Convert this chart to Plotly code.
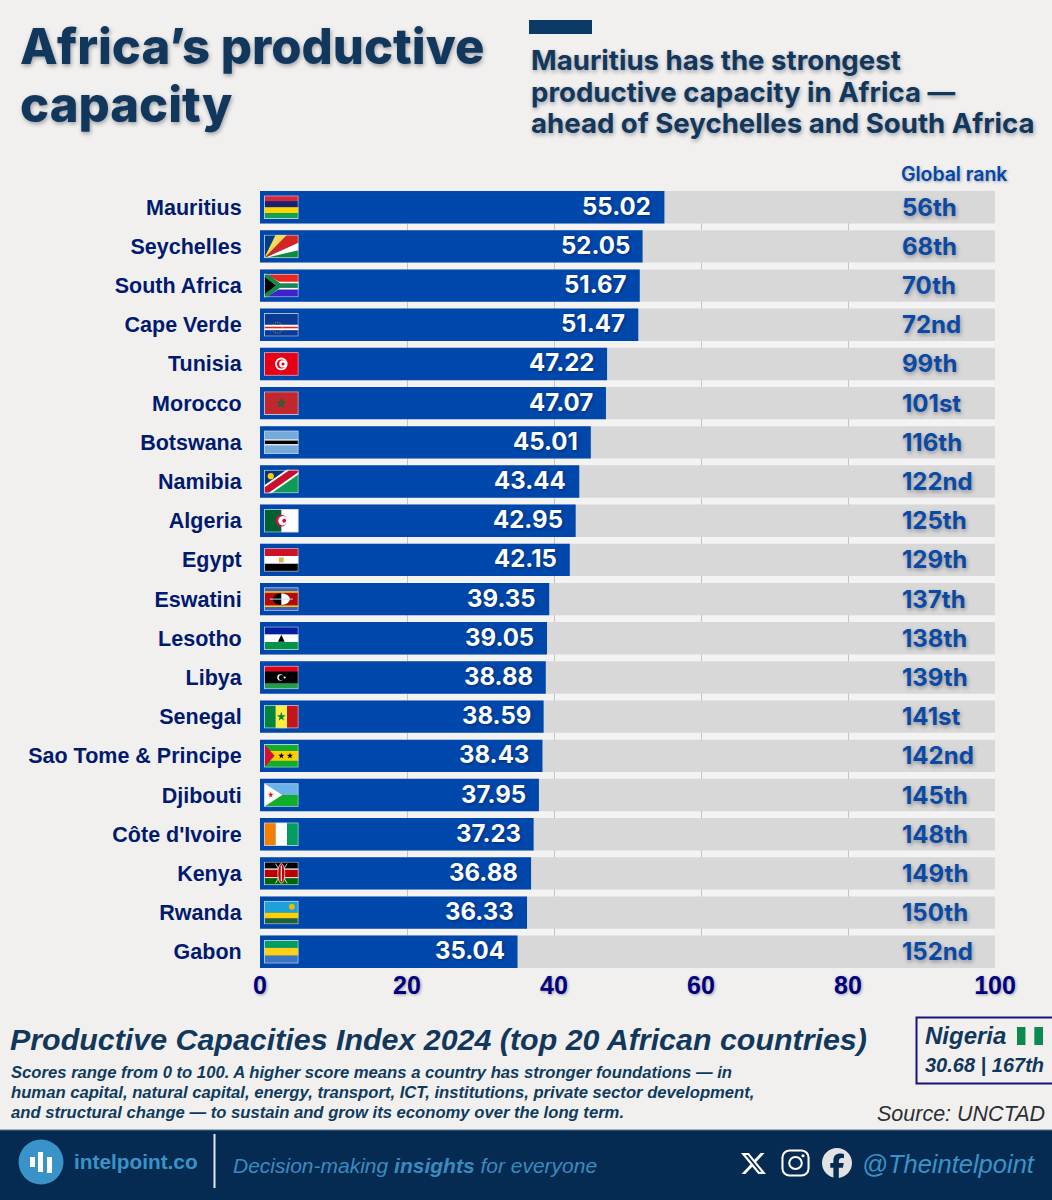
import base64
import plotly.graph_objects as go

W, H = 1052, 1200
PL, PR, PT, PB = 260, 995, 191, 968

countries = ["Mauritius", "Seychelles", "South Africa", "Cape Verde", "Tunisia", "Morocco", "Botswana",
             "Namibia", "Algeria", "Egypt", "Eswatini", "Lesotho", "Libya", "Senegal", "Sao Tome & Principe",
             "Djibouti", "Côte d'Ivoire", "Kenya", "Rwanda", "Gabon"]
scores = [55.02, 52.05, 51.67, 51.47, 47.22, 47.07, 45.01, 43.44, 42.95, 42.15,
          39.35, 39.05, 38.88, 38.59, 38.43, 37.95, 37.23, 36.88, 36.33, 35.04]
ranks = ["56th", "68th", "70th", "72nd", "99th", "101st", "116th", "122nd", "125th", "129th",
         "137th", "138th", "139th", "141st", "142nd", "145th", "148th", "149th", "150th", "152nd"]
track = [100] * 20
x_ticks = [0, 20, 40, 60, 80, 100]


def stripes(*cols):
    h = 24 / len(cols)
    return "".join(f'<rect y="{i*h}" width="36" height="{h}" fill="{c}"/>' for i, c in enumerate(cols))


def vstripes(*cols):
    w = 36 / len(cols)
    return "".join(f'<rect x="{i*w}" width="{w}" height="24" fill="{c}"/>' for i, c in enumerate(cols))


FLAGS = {
    "Mauritius": stripes("#d8263c", "#1a2270", "#ffd500", "#12a150"),
    "Seychelles": '<rect width="36" height="24" fill="#128a3e"/><path d="M0 24L36 16V24Z" fill="#128a3e"/>'
                  '<path d="M0 24L36 8V16Z" fill="#fff"/><path d="M0 24L36 0V8Z" fill="#d92223"/>'
                  '<path d="M0 24L24 0H36Z" fill="#d92223"/><path d="M0 24L12 0H24Z" fill="#fcd856"/>'
                  '<path d="M0 24V0H12Z" fill="#003f87"/>',
    "South Africa": '<rect width="36" height="12" fill="#e8281e"/><rect y="12" width="36" height="12" fill="#3c24c8"/>'
                    '<path d="M0 0L15 12L0 24" fill="#000" stroke="#ffb81c" stroke-width="3"/>'
                    '<path d="M0 0L15 9H36V15H15L0 24" fill="none" stroke="#fff" stroke-width="2"/>'
                    '<path d="M0 0L16 12H36M16 12L0 24" fill="none" stroke="#148a50" stroke-width="4.5"/>',
    "Cape Verde": '<rect width="36" height="24" fill="#0a3a94"/><rect y="12" width="36" height="5.5" fill="#fff"/>'
                  '<rect y="14" width="36" height="1.6" fill="#d8232a"/>'
                  '<circle cx="14" cy="15" r="5.5" fill="none" stroke="#ffd500" stroke-width="0.8" stroke-dasharray="1 1.5"/>',
    "Tunisia": '<rect width="36" height="24" fill="#e70013"/><circle cx="18" cy="12" r="6.5" fill="#fff"/>'
               '<circle cx="18" cy="12" r="4.6" fill="#e70013"/><circle cx="19.4" cy="12" r="3.7" fill="#fff"/>'
               '<circle cx="19.8" cy="12" r="1.6" fill="#e70013"/>',
    "Morocco": '<rect width="36" height="24" fill="#c1272d"/>'
               '<path d="M18 7.5L20.7 16L13.6 10.8H22.4L15.3 16Z" fill="none" stroke="#0a6a3a" stroke-width="1"/>',
    "Botswana": '<rect width="36" height="24" fill="#75aadb"/><rect y="9" width="36" height="6" fill="#fff"/>'
                '<rect y="10.2" width="36" height="3.6" fill="#000"/>',
    "Namibia": '<rect width="36" height="24" fill="#0f9a55"/><path d="M0 24V0H36Z" fill="#003580"/>'
               '<path d="M-2 24L36 -2" stroke="#fff" stroke-width="11"/><path d="M-2 24L36 -2" stroke="#c8102e" stroke-width="7"/>'
               '<circle cx="7" cy="6.5" r="3.2" fill="#ffce00"/>',
    "Algeria": '<rect width="18" height="24" fill="#006233"/><rect x="18" width="18" height="24" fill="#fff"/>'
               '<circle cx="18" cy="12" r="6" fill="#d21034"/><circle cx="19.6" cy="12" r="4.8" fill="#fff"/>'
               '<circle cx="21" cy="12" r="2" fill="#d21034"/>',
    "Egypt": stripes("#ce1126", "#ffffff", "#000000") + '<rect x="15.5" y="9.5" width="5" height="5" fill="#d9b44a"/>',
    "Eswatini": '<rect width="36" height="24" fill="#3e5eb9"/><rect y="4" width="36" height="16" fill="#ffd900"/>'
                '<rect y="5.5" width="36" height="13" fill="#b10c0c"/>'
                '<ellipse cx="18" cy="12" rx="9" ry="6" fill="#000"/><path d="M18 6A9 6 0 0 1 18 18Z" fill="#fff"/>'
                '<rect x="6" y="11.5" width="24" height="1" fill="#d8d8d8"/>',
    "Lesotho": stripes("#00209f", "#ffffff", "#009543") + '<path d="M18 8.5L21.5 15.5H14.5Z" fill="#000"/>',
    "Libya": '<rect width="36" height="6" fill="#e70013"/><rect y="6" width="36" height="12" fill="#000"/>'
             '<rect y="18" width="36" height="6" fill="#239e46"/><circle cx="17" cy="12" r="3.2" fill="#fff"/>'
             '<circle cx="18" cy="12" r="2.6" fill="#000"/><circle cx="21.5" cy="12" r="1.1" fill="#fff"/>',
    "Senegal": vstripes("#00853f", "#fdef42", "#c3161c") +
               '<path d="M18 7L20.9 16.2L13.3 10.5H22.7L15.1 16.2Z" fill="#00853f"/>',
    "Sao Tome & Principe": '<rect width="36" height="24" fill="#12ad2b"/><rect y="7" width="36" height="10" fill="#ffce00"/>'
                           '<path d="M0 0L11 12L0 24Z" fill="#d21034"/>'
                           '<path d="M18 8.5L20 14.8L14.8 10.9H21.2L16 14.8Z" fill="#000"/>'
                           '<path d="M27 8.5L29 14.8L23.8 10.9H30.2L25 14.8Z" fill="#000"/>',
    "Djibouti": '<rect width="36" height="12" fill="#6ab2e7"/><rect y="12" width="36" height="12" fill="#12ad2b"/>'
                '<path d="M0 0L19 12L0 24Z" fill="#fff"/>'
                '<path d="M7 8.5L8.8 14.5L4 10.8H10L5.2 14.5Z" fill="#d7141a"/>',
    "Côte d'Ivoire": vstripes("#f77f00", "#ffffff", "#009e60"),
    "Kenya": '<rect width="36" height="7" fill="#000"/><rect y="7" width="36" height="10" fill="#fff"/>'
             '<rect y="8.2" width="36" height="7.6" fill="#b00"/><rect y="17" width="36" height="7" fill="#060"/>'
             '<path d="M12 2L24 22M24 2L12 22" stroke="#fff" stroke-width="0.8"/>'
             '<ellipse cx="18" cy="12" rx="3.6" ry="10" fill="#b00" stroke="#fff" stroke-width="0.7"/>'
             '<rect x="17.4" y="4" width="1.2" height="16" fill="#fff"/>',
    "Rwanda": '<rect width="36" height="12" fill="#20a0d8"/><rect y="12" width="36" height="6" fill="#fad201"/>'
              '<rect y="18" width="36" height="6" fill="#20603d"/><circle cx="29" cy="6" r="3" fill="#e5be01"/>',
    "Gabon": stripes("#009e60", "#fcd116", "#3a75c4"),
    "Nigeria": '<rect width="12" height="24" x="0" fill="#0b8a50"/><rect x="12" width="12" height="24" fill="#f1f0ee"/>'
               '<rect x="24" width="12" height="24" fill="#0b8a50"/>',
}


def uri(body, vb="0 0 36 24"):
    svg = f'<svg xmlns="http://www.w3.org/2000/svg" viewBox="{vb}" preserveAspectRatio="none">{body}</svg>'
    return "data:image/svg+xml;base64," + base64.b64encode(svg.encode()).decode()


def flag_uri(name):
    body = FLAGS[name] + '<rect x="0.4" y="0.4" width="35.2" height="23.2" fill="none" stroke="#c5d3ee" stroke-width="0.9"/>'
    return uri(body)


X_ICON = '<path fill="#fff" d="M18.901 1.153h3.68l-8.04 9.19L24 22.846h-7.406l-5.8-7.584-6.638 7.584H.474l8.6-9.83L0 1.154h7.594l5.243 6.932ZM17.61 20.644h2.039L6.486 3.24H4.298Z"/>'
IG_ICON = ('<rect x="1.2" y="1.2" width="21.6" height="21.6" rx="6" fill="none" stroke="#fff" stroke-width="1.7"/>'
           '<circle cx="12" cy="12" r="5.2" fill="none" stroke="#fff" stroke-width="1.7"/><circle cx="18.2" cy="5.8" r="1.3" fill="#fff"/>')
FB_ICON = '<path fill="#e2e2e2" d="M9.101 23.691v-7.98H6.627v-3.667h2.474v-1.58c0-4.085 1.848-5.978 5.858-5.978.401 0 .955.042 1.468.103a8.68 8.68 0 0 1 1.141.195v3.325a8.623 8.623 0 0 0-.653-.036 26.805 26.805 0 0 0-.733-.009c-.707 0-1.259.096-1.675.309a1.686 1.686 0 0 0-.679.622c-.258.42-.374.995-.374 1.752v1.297h3.919l-.386 2.103-.287 1.564h-3.246v8.245C19.396 23.238 24 18.179 24 12.044c0-6.627-5.373-12-12-12s-12 5.373-12 12c0 5.628 3.874 10.35 9.101 11.647Z"/>'

BG = "#f1f0ee"
NAVY = "#062b52"
BLUE = "#0047ab"
TITLE = "#12375c"
SHADOW = "1px 2px 4px rgba(0,0,30,0.35)"
SHADOW_S = "1px 1px 3px rgba(0,0,30,0.35)"

fig = go.Figure()
fig.add_bar(y=countries, x=track, orientation="h", marker=dict(color="#d8d8d8", line_width=0), hoverinfo="skip")
fig.add_bar(y=countries, x=scores, orientation="h", marker=dict(color=BLUE, line_width=0))


def px(x):
    return (x - PL) / (PR - PL)


def py(y):
    return 1 - (y - PT) / (PB - PT)


def text(x, y, s, size, color, family="Liberation Sans", weight="normal", style="normal",
         anchor="left", shadow=None):
    fig.add_annotation(xref="paper", yref="paper", x=px(x), y=py(y), text=s, showarrow=False,
                       xanchor=anchor, yanchor="middle", align=anchor, borderpad=0, borderwidth=0,
                       font=dict(size=size, color=color, family=family, weight=weight, style=style,
                                 shadow=shadow or "none"))


for c, s, r in zip(countries, scores, ranks):
    fig.add_annotation(x=s, y=c, text=f"{s:.2f}", showarrow=False, xanchor="right", yanchor="middle",
                       xshift=-12, yshift=1, borderpad=0,
                       font=dict(size=24, color="#ffffff", family="Inter", weight=700, shadow=SHADOW_S))
    fig.add_annotation(x=87.2, y=c, text=r, showarrow=False, xanchor="left", yanchor="middle",
                       yshift=0, borderpad=0,
                       font=dict(size=24, color="#0a4aa5", family="Inter", weight=700, shadow=SHADOW))
    fig.add_layout_image(source=flag_uri(c), xref="x", yref="y", x=0.55, y=c, sizex=4.7, sizey=0.6,
                         xanchor="left", yanchor="middle", sizing="stretch", layer="above")

# header
text(20, 47, "Africa’s productive", 49, TITLE, "Inter", 800, shadow=SHADOW)
text(20, 104, "capacity", 49, TITLE, "Inter", 800, shadow=SHADOW)
text(531, 60, "Mauritius has the strongest", 27.6, TITLE, "Inter", 700, shadow=SHADOW)
text(531, 92, "productive capacity in Africa —", 27.6, TITLE, "Inter", 700, shadow=SHADOW)
text(531, 123, "ahead of Seychelles and South Africa", 27.6, TITLE, "Inter", 700, shadow=SHADOW)
text(901, 174, "Global rank", 19.4, BLUE, "Inter", 600, shadow=SHADOW_S)

# below the chart
text(10, 1039, "Productive Capacities Index 2024 (top 20 African countries)", 30.4, TITLE, weight=700, style="italic")
text(11, 1072, "Scores range from 0 to 100. A higher score means a country has stronger foundations — in",
     16.65, "#0f3b5f", weight=700, style="italic")
text(11, 1092, "human capital, natural capital, energy, transport, ICT, institutions, private sector development,",
     16.65, "#0f3b5f", weight=700, style="italic")
text(11, 1112, "and structural change — to sustain and grow its economy over the long term.",
     16.65, "#0f3b5f", weight=700, style="italic")
text(925, 1035, "Nigeria", 24, TITLE, weight=700, style="italic")
text(925, 1065, "30.68 | 167th", 20, TITLE, weight=700, style="italic")
text(1045, 1114, "Source: UNCTAD", 21.5, "#2b2f33", style="italic", anchor="right")

# footer
text(74, 1161, "intelpoint.co", 20.8, "#3a93c8", weight=700)
text(233, 1165, "Decision-making <b>insights</b> for everyone", 21, "#3a8abf", style="italic")
text(1035, 1164, "@Theintelpoint", 25.5, "#3a93c8", style="italic", anchor="right")

shapes = [
    dict(type="rect", x0=529, x1=592, y0=20, y1=34, fillcolor="#0b3a66"),
    dict(type="rect", x0=916.5, x1=1060, y0=1017.5, y1=1083.5, fillcolor="rgba(0,0,0,0)",
         line=dict(color="#14147a", width=2)),
    dict(type="rect", x0=-2, x1=W + 2, y0=1130, y1=H + 2, fillcolor=NAVY, line=dict(color="#54708c", width=1)),
    dict(type="circle", x0=18.5, x1=63.5, y0=1139.5, y1=1184.5, fillcolor="#3a93c8"),
    dict(type="rect", x0=30, x1=35, y0=1157, y1=1167, fillcolor="#ffffff"),
    dict(type="rect", x0=38, x1=43, y0=1152, y1=1172, fillcolor="#ffffff"),
    dict(type="rect", x0=47, x1=52, y0=1157, y1=1173, fillcolor="#ffffff"),
    dict(type="rect", x0=213.5, x1=215.5, y0=1134, y1=1188, fillcolor="#e4e8ec"),
]
for s in shapes:
    s.update(xref="paper", yref="paper", x0=px(s["x0"]), x1=px(s["x1"]), y0=py(s["y0"]), y1=py(s["y1"]), layer="below")
    s.setdefault("line", dict(width=0))
    fig.add_shape(**s)

for src, x0, x1, y0, y1 in [
    (uri(FLAGS["Nigeria"]), 1017, 1043, 1027, 1045),
    (uri(X_ICON, "0 0 24 24"), 741, 766, 1152, 1175),
    (uri(IG_ICON, "0 0 24 24"), 781, 810, 1149, 1177),
    (uri(FB_ICON, "0 0 24 24"), 822, 852, 1148, 1178),
]:
    fig.add_layout_image(source=src, xref="paper", yref="paper", x=px(x0), y=py(y0), sizex=(x1 - x0) / (PR - PL),
                         sizey=(y1 - y0) / (PB - PT), xanchor="left", yanchor="top", sizing="stretch", layer="above")

fig.update_layout(
    width=W, height=H, autosize=False, showlegend=False, barmode="overlay", bargap=0.173,
    paper_bgcolor=BG, plot_bgcolor="#f3f3f3",
    margin=dict(l=PL, r=W - PR, t=PT, b=H - PB, pad=0),
    font=dict(family="Liberation Sans"),
)
fig.update_xaxes(range=[0, 100], tickvals=x_ticks, showgrid=True, gridcolor="#c4c4c4", gridwidth=1, zeroline=False,
                 showline=False, ticks="", ticklabelstandoff=0,
                 tickfont=dict(size=25, color="#00007f", family="Liberation Sans", weight=700, shadow=SHADOW_S))
fig.update_yaxes(type="category", categoryorder="array", categoryarray=countries, range=[19.4135, -0.4135],
                 showgrid=False, zeroline=False, showline=False, ticks="outside", ticklen=13,
                 tickcolor="rgba(0,0,0,0)",
                 tickfont=dict(size=21.5, color="#001a70", family="Liberation Sans", weight=700))

fig.write_html("out.html", post_script="document.body.style.margin='0';document.body.style.background='#f1f0ee';",
               config={"displayModeBar": False})
